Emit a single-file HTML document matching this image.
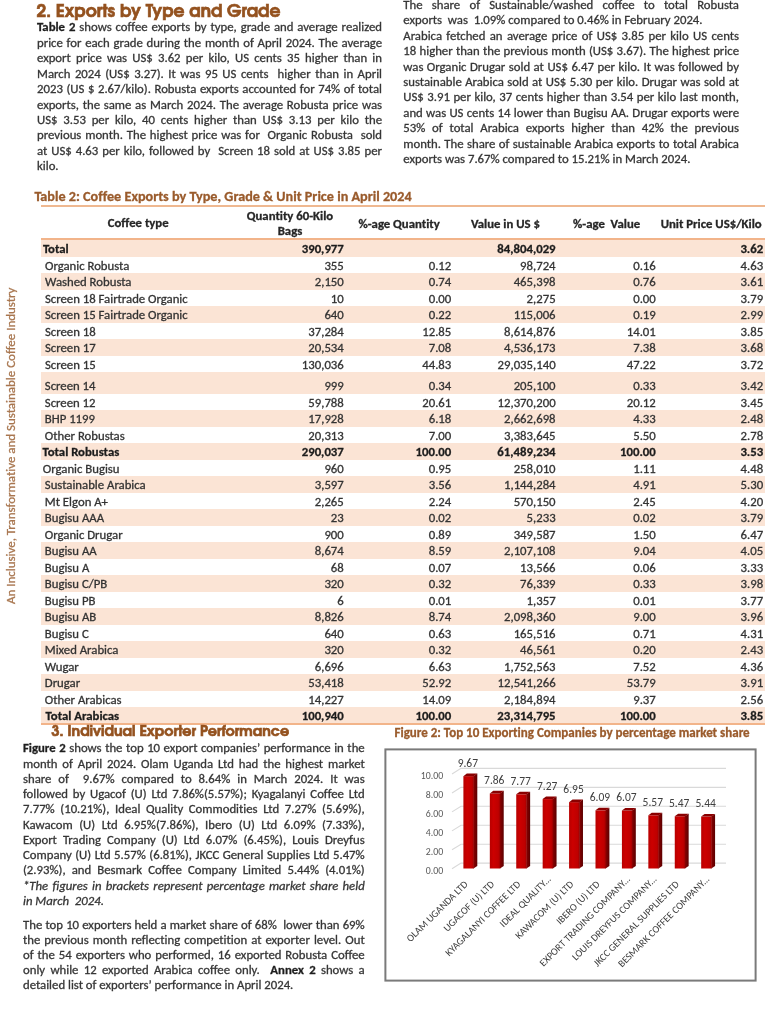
<!DOCTYPE html>
<html><head><meta charset="utf-8"><title>Coffee exports April 2024</title>
<style>
*{margin:0;padding:0;box-sizing:border-box;font-variant-ligatures:none}
html,body{width:770px;height:1024px;overflow:hidden;background:#fff}
body{position:relative;font-family:"Carlito", "Liberation Sans", sans-serif;font-size:12.75px;color:#363636;-webkit-text-stroke:0.3px currentColor}
.ln{position:absolute;height:0;line-height:0;white-space:nowrap;overflow:visible}
.ln.j{text-align:justify;text-align-last:justify}
.ln b{color:#1e1e1e}
.h{position:absolute;font-family:"TeX Gyre Adventor", "DejaVu Sans", sans-serif;font-weight:bold;color:#94521f;-webkit-text-stroke:0.65px currentColor;white-space:nowrap;line-height:0;height:0}
.cap{position:absolute;font-weight:bold;color:#9a5b2c;white-space:nowrap;line-height:0;height:0}
.side{position:absolute;left:11px;top:604px;transform-origin:0 0;transform:rotate(-90deg);white-space:nowrap;color:#a8764f;font-size:12.95px;line-height:0;height:0}
.row{position:absolute;left:41.3px;width:723.3000000000001px}
.pe{background:#fbe4d5}
.c{position:absolute;white-space:nowrap;line-height:0;height:0;color:#333}
.r{text-align:right}
.bd{font-weight:bold;color:#1c1c1c}
.th{position:absolute;white-space:nowrap;line-height:0;height:0;font-weight:bold;color:#262626;text-align:center}
</style></head><body>

<div class="h" style="left:36.5px;top:11.6px;font-size:17.2px;width:243px">2. Exports by Type and Grade</div>
<div class="ln j" style="left:37px;top:27.30px;width:345px"><b>Table 2</b> shows coffee exports by type, grade and average realized</div>
<div class="ln j" style="left:37px;top:42.75px;width:345px">price for each grade during the month of April 2024. The average</div>
<div class="ln j" style="left:37px;top:58.20px;width:345px">export price was US$ 3.62 per kilo, US cents 35 higher than in</div>
<div class="ln j" style="left:37px;top:73.65px;width:345px">March 2024 (US$ 3.27). It was 95 US cents&nbsp; higher than in April</div>
<div class="ln j" style="left:37px;top:89.10px;width:345px">2023 (US $ 2.67/kilo). Robusta exports accounted for 74% of total</div>
<div class="ln j" style="left:37px;top:104.55px;width:345px">exports, the same as March 2024. The average Robusta price was</div>
<div class="ln j" style="left:37px;top:120.00px;width:345px">US$ 3.53 per kilo, 40 cents higher than US$ 3.13 per kilo the</div>
<div class="ln j" style="left:37px;top:135.45px;width:345px">previous month. The highest price was for&nbsp; Organic Robusta&nbsp; sold</div>
<div class="ln j" style="left:37px;top:150.90px;width:345px">at US$ 4.63 per kilo, followed by&nbsp; Screen 18 sold at US$ 3.85 per</div>
<div class="ln" style="left:37px;top:166.35px;width:345px">kilo.</div>
<div class="ln j" style="left:403.3px;top:5.00px;width:335.7px">The share of Sustainable/washed coffee to total Robusta</div>
<div class="ln" style="left:403.3px;top:20.40px;width:335.7px">exports&nbsp; was&nbsp; 1.09% compared to 0.46% in February 2024.</div>
<div class="ln j" style="left:403.3px;top:35.80px;width:335.7px">Arabica fetched an average price of US$ 3.85 per kilo US cents</div>
<div class="ln j" style="left:403.3px;top:51.20px;width:335.7px">18 higher than the previous month (US$ 3.67). The highest price</div>
<div class="ln j" style="left:403.3px;top:66.60px;width:335.7px">was Organic Drugar sold at US$ 6.47 per kilo. It was followed by</div>
<div class="ln j" style="left:403.3px;top:82.00px;width:335.7px">sustainable Arabica sold at US$ 5.30 per kilo. Drugar was sold at</div>
<div class="ln j" style="left:403.3px;top:97.40px;width:335.7px">US$ 3.91 per kilo, 37 cents higher than 3.54 per kilo last month,</div>
<div class="ln j" style="left:403.3px;top:112.80px;width:335.7px">and was US cents 14 lower than Bugisu AA. Drugar exports were</div>
<div class="ln j" style="left:403.3px;top:128.20px;width:335.7px">53% of total Arabica exports higher than 42% the previous</div>
<div class="ln j" style="left:403.3px;top:143.60px;width:335.7px">month. The share of sustainable Arabica exports to total Arabica</div>
<div class="ln" style="left:403.3px;top:159.00px;width:335.7px">exports was 7.67% compared to 15.21% in March 2024.</div>
<div class="side">An Inclusive, Transformative and Sustainable Coffee Industry</div>
<div class="cap" style="left:34.4px;top:196.2px;font-size:14.2px;width:380px">Table 2: Coffee Exports by Type, Grade &amp; Unit Price in April 2024</div>
<div style="position:absolute;left:41.3px;top:205px;width:723.3000000000001px;height:2px;background:#efb890"></div>
<div class="th" style="left:58.19999999999999px;width:160px;top:223.40px">Coffee type</div>
<div class="th" style="left:210px;width:160px;top:215.50px">Quantity 60-Kilo</div>
<div class="th" style="left:210px;width:160px;top:230.50px">Bags</div>
<div class="th" style="left:319.1px;width:160px;top:223.60px">%-age Quantity</div>
<div class="th" style="left:425.4px;width:160px;top:223.60px">Value in US $</div>
<div class="th" style="left:526.6px;width:160px;top:223.60px">%-age&nbsp; Value</div>
<div class="th" style="left:631.2px;width:160px;top:223.60px">Unit Price US$/Kilo</div>
<div class="row pe" style="top:240.00px;height:16.50px"></div>
<div class="row" style="top:256.50px;height:16.50px"></div>
<div class="row pe" style="top:273.00px;height:16.50px"></div>
<div class="row" style="top:289.50px;height:16.50px"></div>
<div class="row pe" style="top:306.00px;height:16.50px"></div>
<div class="row" style="top:322.50px;height:16.50px"></div>
<div class="row pe" style="top:339.00px;height:16.50px"></div>
<div class="row" style="top:355.50px;height:16.50px"></div>
<div class="row pe" style="top:372.00px;height:21.50px"></div>
<div class="row" style="top:393.50px;height:16.50px"></div>
<div class="row pe" style="top:410.00px;height:16.50px"></div>
<div class="row" style="top:426.50px;height:16.50px"></div>
<div class="row pe" style="top:443.00px;height:16.50px"></div>
<div class="row" style="top:459.50px;height:16.50px"></div>
<div class="row pe" style="top:476.00px;height:16.50px"></div>
<div class="row" style="top:492.50px;height:16.50px"></div>
<div class="row pe" style="top:509.00px;height:16.50px"></div>
<div class="row" style="top:525.50px;height:16.50px"></div>
<div class="row pe" style="top:542.00px;height:16.50px"></div>
<div class="row" style="top:558.50px;height:16.50px"></div>
<div class="row pe" style="top:575.00px;height:16.50px"></div>
<div class="row" style="top:591.50px;height:16.50px"></div>
<div class="row pe" style="top:608.00px;height:16.50px"></div>
<div class="row" style="top:624.50px;height:16.50px"></div>
<div class="row pe" style="top:641.00px;height:16.50px"></div>
<div class="row" style="top:657.50px;height:16.50px"></div>
<div class="row pe" style="top:674.00px;height:16.50px"></div>
<div class="row" style="top:690.50px;height:16.50px"></div>
<div class="row pe" style="top:707.00px;height:16.50px"></div>
<div class="c bd" style="left:42.9px;top:249.40px">Total</div>
<div class="c r bd" style="left:223.8px;width:120px;top:249.40px">390,977</div>
<div class="c r bd" style="left:435.6px;width:120px;top:249.40px">84,804,029</div>
<div class="c r bd" style="left:643.2px;width:120px;top:249.40px">3.62</div>
<div class="c" style="left:45px;top:265.90px">Organic Robusta</div>
<div class="c r" style="left:223.8px;width:120px;top:265.90px">355</div>
<div class="c r" style="left:331.3px;width:120px;top:265.90px">0.12</div>
<div class="c r" style="left:435.6px;width:120px;top:265.90px">98,724</div>
<div class="c r" style="left:535.8px;width:120px;top:265.90px">0.16</div>
<div class="c r" style="left:643.2px;width:120px;top:265.90px">4.63</div>
<div class="c" style="left:45px;top:282.40px">Washed Robusta</div>
<div class="c r" style="left:223.8px;width:120px;top:282.40px">2,150</div>
<div class="c r" style="left:331.3px;width:120px;top:282.40px">0.74</div>
<div class="c r" style="left:435.6px;width:120px;top:282.40px">465,398</div>
<div class="c r" style="left:535.8px;width:120px;top:282.40px">0.76</div>
<div class="c r" style="left:643.2px;width:120px;top:282.40px">3.61</div>
<div class="c" style="left:45px;top:298.90px">Screen 18 Fairtrade Organic</div>
<div class="c r" style="left:223.8px;width:120px;top:298.90px">10</div>
<div class="c r" style="left:331.3px;width:120px;top:298.90px">0.00</div>
<div class="c r" style="left:435.6px;width:120px;top:298.90px">2,275</div>
<div class="c r" style="left:535.8px;width:120px;top:298.90px">0.00</div>
<div class="c r" style="left:643.2px;width:120px;top:298.90px">3.79</div>
<div class="c" style="left:45px;top:315.40px">Screen 15 Fairtrade Organic</div>
<div class="c r" style="left:223.8px;width:120px;top:315.40px">640</div>
<div class="c r" style="left:331.3px;width:120px;top:315.40px">0.22</div>
<div class="c r" style="left:435.6px;width:120px;top:315.40px">115,006</div>
<div class="c r" style="left:535.8px;width:120px;top:315.40px">0.19</div>
<div class="c r" style="left:643.2px;width:120px;top:315.40px">2.99</div>
<div class="c" style="left:45px;top:331.90px">Screen 18</div>
<div class="c r" style="left:223.8px;width:120px;top:331.90px">37,284</div>
<div class="c r" style="left:331.3px;width:120px;top:331.90px">12.85</div>
<div class="c r" style="left:435.6px;width:120px;top:331.90px">8,614,876</div>
<div class="c r" style="left:535.8px;width:120px;top:331.90px">14.01</div>
<div class="c r" style="left:643.2px;width:120px;top:331.90px">3.85</div>
<div class="c" style="left:45px;top:348.40px">Screen 17</div>
<div class="c r" style="left:223.8px;width:120px;top:348.40px">20,534</div>
<div class="c r" style="left:331.3px;width:120px;top:348.40px">7.08</div>
<div class="c r" style="left:435.6px;width:120px;top:348.40px">4,536,173</div>
<div class="c r" style="left:535.8px;width:120px;top:348.40px">7.38</div>
<div class="c r" style="left:643.2px;width:120px;top:348.40px">3.68</div>
<div class="c" style="left:45px;top:364.90px">Screen 15</div>
<div class="c r" style="left:223.8px;width:120px;top:364.90px">130,036</div>
<div class="c r" style="left:331.3px;width:120px;top:364.90px">44.83</div>
<div class="c r" style="left:435.6px;width:120px;top:364.90px">29,035,140</div>
<div class="c r" style="left:535.8px;width:120px;top:364.90px">47.22</div>
<div class="c r" style="left:643.2px;width:120px;top:364.90px">3.72</div>
<div class="c" style="left:44.8px;top:386.40px">Screen 14</div>
<div class="c r" style="left:223.8px;width:120px;top:386.40px">999</div>
<div class="c r" style="left:331.3px;width:120px;top:386.40px">0.34</div>
<div class="c r" style="left:435.6px;width:120px;top:386.40px">205,100</div>
<div class="c r" style="left:535.8px;width:120px;top:386.40px">0.33</div>
<div class="c r" style="left:643.2px;width:120px;top:386.40px">3.42</div>
<div class="c" style="left:44.8px;top:402.90px">Screen 12</div>
<div class="c r" style="left:223.8px;width:120px;top:402.90px">59,788</div>
<div class="c r" style="left:331.3px;width:120px;top:402.90px">20.61</div>
<div class="c r" style="left:435.6px;width:120px;top:402.90px">12,370,200</div>
<div class="c r" style="left:535.8px;width:120px;top:402.90px">20.12</div>
<div class="c r" style="left:643.2px;width:120px;top:402.90px">3.45</div>
<div class="c" style="left:44.8px;top:419.40px">BHP 1199</div>
<div class="c r" style="left:223.8px;width:120px;top:419.40px">17,928</div>
<div class="c r" style="left:331.3px;width:120px;top:419.40px">6.18</div>
<div class="c r" style="left:435.6px;width:120px;top:419.40px">2,662,698</div>
<div class="c r" style="left:535.8px;width:120px;top:419.40px">4.33</div>
<div class="c r" style="left:643.2px;width:120px;top:419.40px">2.48</div>
<div class="c" style="left:44.8px;top:435.90px">Other Robustas</div>
<div class="c r" style="left:223.8px;width:120px;top:435.90px">20,313</div>
<div class="c r" style="left:331.3px;width:120px;top:435.90px">7.00</div>
<div class="c r" style="left:435.6px;width:120px;top:435.90px">3,383,645</div>
<div class="c r" style="left:535.8px;width:120px;top:435.90px">5.50</div>
<div class="c r" style="left:643.2px;width:120px;top:435.90px">2.78</div>
<div class="c bd" style="left:42.5px;top:452.40px">Total Robustas</div>
<div class="c r bd" style="left:223.8px;width:120px;top:452.40px">290,037</div>
<div class="c r bd" style="left:331.3px;width:120px;top:452.40px">100.00</div>
<div class="c r bd" style="left:435.6px;width:120px;top:452.40px">61,489,234</div>
<div class="c r bd" style="left:535.8px;width:120px;top:452.40px">100.00</div>
<div class="c r bd" style="left:643.2px;width:120px;top:452.40px">3.53</div>
<div class="c" style="left:42.8px;top:468.90px">Organic Bugisu</div>
<div class="c r" style="left:223.8px;width:120px;top:468.90px">960</div>
<div class="c r" style="left:331.3px;width:120px;top:468.90px">0.95</div>
<div class="c r" style="left:435.6px;width:120px;top:468.90px">258,010</div>
<div class="c r" style="left:535.8px;width:120px;top:468.90px">1.11</div>
<div class="c r" style="left:643.2px;width:120px;top:468.90px">4.48</div>
<div class="c" style="left:44.8px;top:485.40px">Sustainable Arabica</div>
<div class="c r" style="left:223.8px;width:120px;top:485.40px">3,597</div>
<div class="c r" style="left:331.3px;width:120px;top:485.40px">3.56</div>
<div class="c r" style="left:435.6px;width:120px;top:485.40px">1,144,284</div>
<div class="c r" style="left:535.8px;width:120px;top:485.40px">4.91</div>
<div class="c r" style="left:643.2px;width:120px;top:485.40px">5.30</div>
<div class="c" style="left:44.8px;top:501.90px">Mt Elgon A+</div>
<div class="c r" style="left:223.8px;width:120px;top:501.90px">2,265</div>
<div class="c r" style="left:331.3px;width:120px;top:501.90px">2.24</div>
<div class="c r" style="left:435.6px;width:120px;top:501.90px">570,150</div>
<div class="c r" style="left:535.8px;width:120px;top:501.90px">2.45</div>
<div class="c r" style="left:643.2px;width:120px;top:501.90px">4.20</div>
<div class="c" style="left:44.8px;top:518.40px">Bugisu AAA</div>
<div class="c r" style="left:223.8px;width:120px;top:518.40px">23</div>
<div class="c r" style="left:331.3px;width:120px;top:518.40px">0.02</div>
<div class="c r" style="left:435.6px;width:120px;top:518.40px">5,233</div>
<div class="c r" style="left:535.8px;width:120px;top:518.40px">0.02</div>
<div class="c r" style="left:643.2px;width:120px;top:518.40px">3.79</div>
<div class="c" style="left:44.8px;top:534.90px">Organic Drugar</div>
<div class="c r" style="left:223.8px;width:120px;top:534.90px">900</div>
<div class="c r" style="left:331.3px;width:120px;top:534.90px">0.89</div>
<div class="c r" style="left:435.6px;width:120px;top:534.90px">349,587</div>
<div class="c r" style="left:535.8px;width:120px;top:534.90px">1.50</div>
<div class="c r" style="left:643.2px;width:120px;top:534.90px">6.47</div>
<div class="c" style="left:44.8px;top:551.40px">Bugisu AA</div>
<div class="c r" style="left:223.8px;width:120px;top:551.40px">8,674</div>
<div class="c r" style="left:331.3px;width:120px;top:551.40px">8.59</div>
<div class="c r" style="left:435.6px;width:120px;top:551.40px">2,107,108</div>
<div class="c r" style="left:535.8px;width:120px;top:551.40px">9.04</div>
<div class="c r" style="left:643.2px;width:120px;top:551.40px">4.05</div>
<div class="c" style="left:44.8px;top:567.90px">Bugisu A</div>
<div class="c r" style="left:223.8px;width:120px;top:567.90px">68</div>
<div class="c r" style="left:331.3px;width:120px;top:567.90px">0.07</div>
<div class="c r" style="left:435.6px;width:120px;top:567.90px">13,566</div>
<div class="c r" style="left:535.8px;width:120px;top:567.90px">0.06</div>
<div class="c r" style="left:643.2px;width:120px;top:567.90px">3.33</div>
<div class="c" style="left:44.8px;top:584.40px">Bugisu C/PB</div>
<div class="c r" style="left:223.8px;width:120px;top:584.40px">320</div>
<div class="c r" style="left:331.3px;width:120px;top:584.40px">0.32</div>
<div class="c r" style="left:435.6px;width:120px;top:584.40px">76,339</div>
<div class="c r" style="left:535.8px;width:120px;top:584.40px">0.33</div>
<div class="c r" style="left:643.2px;width:120px;top:584.40px">3.98</div>
<div class="c" style="left:44.8px;top:600.90px">Bugisu PB</div>
<div class="c r" style="left:223.8px;width:120px;top:600.90px">6</div>
<div class="c r" style="left:331.3px;width:120px;top:600.90px">0.01</div>
<div class="c r" style="left:435.6px;width:120px;top:600.90px">1,357</div>
<div class="c r" style="left:535.8px;width:120px;top:600.90px">0.01</div>
<div class="c r" style="left:643.2px;width:120px;top:600.90px">3.77</div>
<div class="c" style="left:44.8px;top:617.40px">Bugisu AB</div>
<div class="c r" style="left:223.8px;width:120px;top:617.40px">8,826</div>
<div class="c r" style="left:331.3px;width:120px;top:617.40px">8.74</div>
<div class="c r" style="left:435.6px;width:120px;top:617.40px">2,098,360</div>
<div class="c r" style="left:535.8px;width:120px;top:617.40px">9.00</div>
<div class="c r" style="left:643.2px;width:120px;top:617.40px">3.96</div>
<div class="c" style="left:44.8px;top:633.90px">Bugisu C</div>
<div class="c r" style="left:223.8px;width:120px;top:633.90px">640</div>
<div class="c r" style="left:331.3px;width:120px;top:633.90px">0.63</div>
<div class="c r" style="left:435.6px;width:120px;top:633.90px">165,516</div>
<div class="c r" style="left:535.8px;width:120px;top:633.90px">0.71</div>
<div class="c r" style="left:643.2px;width:120px;top:633.90px">4.31</div>
<div class="c" style="left:44.8px;top:650.40px">Mixed Arabica</div>
<div class="c r" style="left:223.8px;width:120px;top:650.40px">320</div>
<div class="c r" style="left:331.3px;width:120px;top:650.40px">0.32</div>
<div class="c r" style="left:435.6px;width:120px;top:650.40px">46,561</div>
<div class="c r" style="left:535.8px;width:120px;top:650.40px">0.20</div>
<div class="c r" style="left:643.2px;width:120px;top:650.40px">2.43</div>
<div class="c" style="left:44.8px;top:666.90px">Wugar</div>
<div class="c r" style="left:223.8px;width:120px;top:666.90px">6,696</div>
<div class="c r" style="left:331.3px;width:120px;top:666.90px">6.63</div>
<div class="c r" style="left:435.6px;width:120px;top:666.90px">1,752,563</div>
<div class="c r" style="left:535.8px;width:120px;top:666.90px">7.52</div>
<div class="c r" style="left:643.2px;width:120px;top:666.90px">4.36</div>
<div class="c" style="left:44.8px;top:683.40px">Drugar</div>
<div class="c r" style="left:223.8px;width:120px;top:683.40px">53,418</div>
<div class="c r" style="left:331.3px;width:120px;top:683.40px">52.92</div>
<div class="c r" style="left:435.6px;width:120px;top:683.40px">12,541,266</div>
<div class="c r" style="left:535.8px;width:120px;top:683.40px">53.79</div>
<div class="c r" style="left:643.2px;width:120px;top:683.40px">3.91</div>
<div class="c" style="left:44.8px;top:699.90px">Other Arabicas</div>
<div class="c r" style="left:223.8px;width:120px;top:699.90px">14,227</div>
<div class="c r" style="left:331.3px;width:120px;top:699.90px">14.09</div>
<div class="c r" style="left:435.6px;width:120px;top:699.90px">2,184,894</div>
<div class="c r" style="left:535.8px;width:120px;top:699.90px">9.37</div>
<div class="c r" style="left:643.2px;width:120px;top:699.90px">2.56</div>
<div class="c bd" style="left:45.6px;top:716.40px">Total Arabicas</div>
<div class="c r bd" style="left:223.8px;width:120px;top:716.40px">100,940</div>
<div class="c r bd" style="left:331.3px;width:120px;top:716.40px">100.00</div>
<div class="c r bd" style="left:435.6px;width:120px;top:716.40px">23,314,795</div>
<div class="c r bd" style="left:535.8px;width:120px;top:716.40px">100.00</div>
<div class="c r bd" style="left:643.2px;width:120px;top:716.40px">3.85</div>
<div style="position:absolute;left:41.3px;top:238.2px;width:723.3000000000001px;height:2px;background:#f2b48a"></div>
<div style="position:absolute;left:41.3px;top:722.90px;width:723.3000000000001px;height:2px;background:#f2b48a"></div>
<div class="h" style="left:51.6px;top:732.2px;font-size:14.3px;width:237px">3. Individual Exporter Performance</div>
<div class="cap" style="left:394.5px;top:733px;font-size:13px;width:355px">Figure 2: Top 10 Exporting Companies by percentage market share</div>
<div class="ln j" style="left:23px;top:748.40px;width:341.7px"><b>Figure 2</b> shows the top 10 export companies’ performance in the</div>
<div class="ln j" style="left:23px;top:763.66px;width:341.7px">month of April 2024. Olam Uganda Ltd had the highest market</div>
<div class="ln j" style="left:23px;top:778.92px;width:341.7px">share of&nbsp; 9.67% compared to 8.64% in March 2024. It was</div>
<div class="ln j" style="left:23px;top:794.18px;width:341.7px">followed by Ugacof (U) Ltd 7.86%(5.57%); Kyagalanyi Coffee Ltd</div>
<div class="ln j" style="left:23px;top:809.44px;width:341.7px">7.77% (10.21%), Ideal Quality Commodities Ltd 7.27% (5.69%),</div>
<div class="ln j" style="left:23px;top:824.70px;width:341.7px">Kawacom (U) Ltd 6.95%(7.86%), Ibero (U) Ltd 6.09% (7.33%),</div>
<div class="ln j" style="left:23px;top:839.96px;width:341.7px">Export Trading Company (U) Ltd 6.07% (6.45%), Louis Dreyfus</div>
<div class="ln j" style="left:23px;top:855.22px;width:341.7px">Company (U) Ltd 5.57% (6.81%), JKCC General Supplies Ltd 5.47%</div>
<div class="ln j" style="left:23px;top:870.48px;width:341.7px">(2.93%), and Besmark Coffee Company Limited 5.44% (4.01%)</div>
<div class="ln j" style="left:23px;top:885.74px;width:341.7px"><i>*The figures in brackets represent percentage market share held</i></div>
<div class="ln" style="left:23px;top:901.00px;width:341.7px"><i>in March&nbsp; 2024.</i></div>
<div class="ln j" style="left:23px;top:924.60px;width:341.7px">The top 10 exporters held a market share of 68%&nbsp; lower than 69%</div>
<div class="ln j" style="left:23px;top:939.70px;width:341.7px">the previous month reflecting competition at exporter level. Out</div>
<div class="ln j" style="left:23px;top:954.80px;width:341.7px">of the 54 exporters who performed, 16 exported Robusta Coffee</div>
<div class="ln j" style="left:23px;top:969.90px;width:341.7px">only while 12 exported Arabica coffee only.&nbsp; <b>Annex 2</b> shows a</div>
<div class="ln" style="left:23px;top:985.00px;width:341.7px">detailed list of exporters’ performance in April 2024.</div>
<svg style="position:absolute;left:0;top:0" width="770" height="1024" viewBox="0 0 770 1024">
<defs><linearGradient id="gf" x1="0" y1="0" x2="1" y2="0"><stop offset="0" stop-color="#b80000"/><stop offset="0.35" stop-color="#cc0000"/><stop offset="0.8" stop-color="#bf0000"/><stop offset="1" stop-color="#a00000"/></linearGradient><linearGradient id="gs" x1="0" y1="0" x2="1" y2="0"><stop offset="0" stop-color="#8c0000"/><stop offset="1" stop-color="#5a0000"/></linearGradient></defs>
<rect x="385.4" y="749.4" width="370.2" height="231.2" fill="#fff" stroke="#7a7a7a" stroke-width="2"/>
<path d="M452 774.00 L461 768.40 L726 768.40" fill="none" stroke="#d9d9d9" stroke-width="1.1"/>
<text x="443.2" y="779.20" text-anchor="end" font-family='Carlito, "Liberation Sans", sans-serif' font-size="9.8" fill="#595959">10.00</text>
<path d="M452 792.95 L461 787.35 L726 787.35" fill="none" stroke="#d9d9d9" stroke-width="1.1"/>
<text x="443.2" y="798.08" text-anchor="end" font-family='Carlito, "Liberation Sans", sans-serif' font-size="9.8" fill="#595959">8.00</text>
<path d="M452 811.90 L461 806.30 L726 806.30" fill="none" stroke="#d9d9d9" stroke-width="1.1"/>
<text x="443.2" y="816.96" text-anchor="end" font-family='Carlito, "Liberation Sans", sans-serif' font-size="9.8" fill="#595959">6.00</text>
<path d="M452 830.85 L461 825.25 L726 825.25" fill="none" stroke="#d9d9d9" stroke-width="1.1"/>
<text x="443.2" y="835.84" text-anchor="end" font-family='Carlito, "Liberation Sans", sans-serif' font-size="9.8" fill="#595959">4.00</text>
<path d="M452 849.80 L461 844.20 L726 844.20" fill="none" stroke="#d9d9d9" stroke-width="1.1"/>
<text x="443.2" y="854.72" text-anchor="end" font-family='Carlito, "Liberation Sans", sans-serif' font-size="9.8" fill="#595959">2.00</text>
<path d="M452 868.75 L461 863.15 L726 863.15" fill="none" stroke="#d9d9d9" stroke-width="1.1"/>
<text x="443.2" y="873.60" text-anchor="end" font-family='Carlito, "Liberation Sans", sans-serif' font-size="9.8" fill="#595959">0.00</text>
<rect x="463.40" y="776.15" width="10.5" height="92.35" fill="url(#gf)"/>
<polygon points="473.50,776.15 477.30,773.55 477.30,865.90 473.50,868.50" fill="url(#gs)"/>
<polygon points="463.40,776.15 466.80,773.55 477.30,773.55 473.90,776.15" fill="#8a0000"/>
<text x="467.85" y="766.85" text-anchor="middle" font-family='Carlito, "Liberation Sans", sans-serif' font-size="11.5" fill="#404040">9.67</text>
<text x="468.40" y="884.80" text-anchor="end" transform="rotate(-45 468.40 884.80)" font-family='Carlito, "Liberation Sans", sans-serif' font-size="10.1" fill="#404040">OLAM UGANDA LTD</text>
<rect x="489.82" y="793.44" width="10.5" height="75.06" fill="url(#gf)"/>
<polygon points="499.92,793.44 503.72,790.84 503.72,865.90 499.92,868.50" fill="url(#gs)"/>
<polygon points="489.82,793.44 493.22,790.84 503.72,790.84 500.32,793.44" fill="#8a0000"/>
<text x="494.27" y="784.14" text-anchor="middle" font-family='Carlito, "Liberation Sans", sans-serif' font-size="11.5" fill="#404040">7.86</text>
<text x="494.82" y="884.80" text-anchor="end" transform="rotate(-45 494.82 884.80)" font-family='Carlito, "Liberation Sans", sans-serif' font-size="10.1" fill="#404040">UGACOF (U) LTD</text>
<rect x="516.24" y="794.30" width="10.5" height="74.20" fill="url(#gf)"/>
<polygon points="526.34,794.30 530.14,791.70 530.14,865.90 526.34,868.50" fill="url(#gs)"/>
<polygon points="516.24,794.30 519.64,791.70 530.14,791.70 526.74,794.30" fill="#8a0000"/>
<text x="520.69" y="785.00" text-anchor="middle" font-family='Carlito, "Liberation Sans", sans-serif' font-size="11.5" fill="#404040">7.77</text>
<text x="521.24" y="884.80" text-anchor="end" transform="rotate(-45 521.24 884.80)" font-family='Carlito, "Liberation Sans", sans-serif' font-size="10.1" fill="#404040">KYAGALANYI COFFEE LTD</text>
<rect x="542.66" y="799.07" width="10.5" height="69.43" fill="url(#gf)"/>
<polygon points="552.76,799.07 556.56,796.47 556.56,865.90 552.76,868.50" fill="url(#gs)"/>
<polygon points="542.66,799.07 546.06,796.47 556.56,796.47 553.16,799.07" fill="#8a0000"/>
<text x="547.11" y="789.77" text-anchor="middle" font-family='Carlito, "Liberation Sans", sans-serif' font-size="11.5" fill="#404040">7.27</text>
<text x="551.66" y="879.60" text-anchor="end" transform="rotate(-45 551.66 879.60)" font-family='Carlito, "Liberation Sans", sans-serif' font-size="10.1" fill="#404040">IDEAL QUALITY...</text>
<rect x="569.08" y="802.13" width="10.5" height="66.37" fill="url(#gf)"/>
<polygon points="579.18,802.13 582.98,799.53 582.98,865.90 579.18,868.50" fill="url(#gs)"/>
<polygon points="569.08,802.13 572.48,799.53 582.98,799.53 579.58,802.13" fill="#8a0000"/>
<text x="573.53" y="792.83" text-anchor="middle" font-family='Carlito, "Liberation Sans", sans-serif' font-size="11.5" fill="#404040">6.95</text>
<text x="574.08" y="884.80" text-anchor="end" transform="rotate(-45 574.08 884.80)" font-family='Carlito, "Liberation Sans", sans-serif' font-size="10.1" fill="#404040">KAWACOM (U) LTD</text>
<rect x="595.50" y="810.34" width="10.5" height="58.16" fill="url(#gf)"/>
<polygon points="605.60,810.34 609.40,807.74 609.40,865.90 605.60,868.50" fill="url(#gs)"/>
<polygon points="595.50,810.34 598.90,807.74 609.40,807.74 606.00,810.34" fill="#8a0000"/>
<text x="599.95" y="801.04" text-anchor="middle" font-family='Carlito, "Liberation Sans", sans-serif' font-size="11.5" fill="#404040">6.09</text>
<text x="600.50" y="884.80" text-anchor="end" transform="rotate(-45 600.50 884.80)" font-family='Carlito, "Liberation Sans", sans-serif' font-size="10.1" fill="#404040">IBERO (U) LTD</text>
<rect x="621.92" y="810.53" width="10.5" height="57.97" fill="url(#gf)"/>
<polygon points="632.02,810.53 635.82,807.93 635.82,865.90 632.02,868.50" fill="url(#gs)"/>
<polygon points="621.92,810.53 625.32,807.93 635.82,807.93 632.42,810.53" fill="#8a0000"/>
<text x="626.37" y="801.23" text-anchor="middle" font-family='Carlito, "Liberation Sans", sans-serif' font-size="11.5" fill="#404040">6.07</text>
<text x="630.92" y="879.60" text-anchor="end" transform="rotate(-45 630.92 879.60)" font-family='Carlito, "Liberation Sans", sans-serif' font-size="10.1" fill="#404040">EXPORT TRADING COMPANY...</text>
<rect x="648.34" y="815.31" width="10.5" height="53.19" fill="url(#gf)"/>
<polygon points="658.44,815.31 662.24,812.71 662.24,865.90 658.44,868.50" fill="url(#gs)"/>
<polygon points="648.34,815.31 651.74,812.71 662.24,812.71 658.84,815.31" fill="#8a0000"/>
<text x="652.79" y="806.01" text-anchor="middle" font-family='Carlito, "Liberation Sans", sans-serif' font-size="11.5" fill="#404040">5.57</text>
<text x="657.34" y="879.60" text-anchor="end" transform="rotate(-45 657.34 879.60)" font-family='Carlito, "Liberation Sans", sans-serif' font-size="10.1" fill="#404040">LOUIS DREYFUS COMPANY...</text>
<rect x="674.76" y="816.26" width="10.5" height="52.24" fill="url(#gf)"/>
<polygon points="684.86,816.26 688.66,813.66 688.66,865.90 684.86,868.50" fill="url(#gs)"/>
<polygon points="674.76,816.26 678.16,813.66 688.66,813.66 685.26,816.26" fill="#8a0000"/>
<text x="679.21" y="806.96" text-anchor="middle" font-family='Carlito, "Liberation Sans", sans-serif' font-size="11.5" fill="#404040">5.47</text>
<text x="679.76" y="884.80" text-anchor="end" transform="rotate(-45 679.76 884.80)" font-family='Carlito, "Liberation Sans", sans-serif' font-size="10.1" fill="#404040">JKCC GENERAL SUPPLIES LTD</text>
<rect x="701.18" y="816.55" width="10.5" height="51.95" fill="url(#gf)"/>
<polygon points="711.28,816.55 715.08,813.95 715.08,865.90 711.28,868.50" fill="url(#gs)"/>
<polygon points="701.18,816.55 704.58,813.95 715.08,813.95 711.68,816.55" fill="#8a0000"/>
<text x="705.63" y="807.25" text-anchor="middle" font-family='Carlito, "Liberation Sans", sans-serif' font-size="11.5" fill="#404040">5.44</text>
<text x="710.18" y="879.60" text-anchor="end" transform="rotate(-45 710.18 879.60)" font-family='Carlito, "Liberation Sans", sans-serif' font-size="10.1" fill="#404040">BESMARK COFFEE COMPANY...</text>
</svg>
<script>
(function(){
  function has(f){
    var c=document.createElement('canvas').getContext('2d');
    var t='abcdefghijklmnopqrstuvwxyzABCDEFGHIJKLM0123456789';
    c.font='20px monospace'; var a=c.measureText(t).width;
    c.font='20px "'+f+'", monospace'; var b=c.measureText(t).width;
    c.font='20px serif'; var a2=c.measureText(t).width;
    c.font='20px "'+f+'", serif'; var b2=c.measureText(t).width;
    return a!==b || a2!==b2;
  }
  function natural(el){
    var s=el.style, o=[s.textAlign,s.textAlignLast,s.width,s.display];
    s.textAlign='left'; s.textAlignLast='auto'; s.width='auto'; s.display='inline-block';
    var w=el.getBoundingClientRect().width;
    s.textAlign=o[0]; s.textAlignLast=o[1]; s.width=o[2]; s.display=o[3];
    return w;
  }
  function shrink(el,maxw){
    var w=natural(el);
    if(w>maxw){ var fs=parseFloat(getComputedStyle(el).fontSize); el.style.fontSize=(fs*maxw/w*0.995)+'px'; }
  }
  if(!has('Carlito')){
    document.querySelectorAll('.ln,.c,.th,.side,.cap').forEach(function(el){
      el.style.fontSize=(parseFloat(getComputedStyle(el).fontSize)*0.9)+'px'; });
    document.querySelectorAll('.ln').forEach(function(el){ shrink(el, el.clientWidth); });
    document.querySelectorAll('.cap').forEach(function(el){ shrink(el, parseFloat(el.style.width)); });
  }
  if(!has('TeX Gyre Adventor')){
    document.querySelectorAll('.h').forEach(function(el){
      var tw=parseFloat(el.style.width), w=natural(el), fs=parseFloat(getComputedStyle(el).fontSize);
      el.style.fontSize=(fs*tw/w)+'px';
    });
  }
})();
</script>

</body></html>
